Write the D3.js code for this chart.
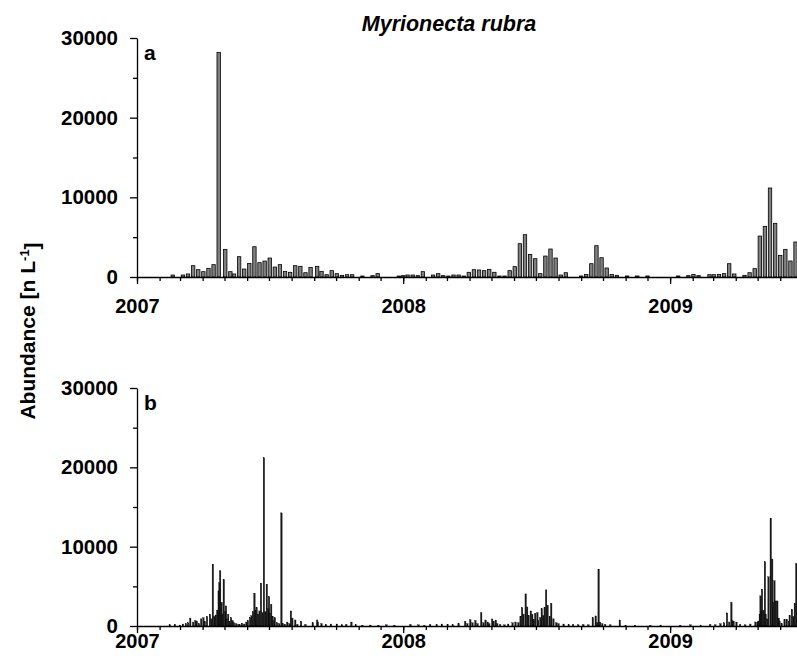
<!DOCTYPE html>
<html>
<head>
<meta charset="utf-8">
<script src="https://cdn.jsdelivr.net/npm/d3@7"></script>
<style>
  body { margin: 0; background: #fff; }
  text { font-family: "Liberation Sans", Arial, sans-serif; font-weight: bold; }
</style>
</head>
<body>
<svg id="chart"></svg>
<script>
const W = 797, H = 671;

// panel a: weekly samples
const datesA = [
  "2007-02-19","2007-03-05","2007-03-12","2007-03-19","2007-03-26","2007-04-02","2007-04-09","2007-04-16",
  "2007-04-23","2007-05-02","2007-05-09","2007-05-14","2007-05-21","2007-05-28","2007-06-04","2007-06-11",
  "2007-06-18","2007-06-25","2007-07-02","2007-07-09","2007-07-16","2007-07-23","2007-07-30","2007-08-06",
  "2007-08-13","2007-08-20","2007-08-27","2007-09-05","2007-09-11","2007-09-18","2007-09-25","2007-10-02",
  "2007-10-09","2007-10-16","2007-10-23","2007-11-06","2007-11-20","2007-11-27","2007-12-26","2008-01-01",
  "2008-01-07","2008-01-14","2008-01-21","2008-01-28","2008-02-11","2008-02-18","2008-02-25","2008-03-03",
  "2008-03-10","2008-03-17","2008-03-24","2008-03-31","2008-04-07","2008-04-14","2008-04-21","2008-04-28",
  "2008-05-05","2008-05-12","2008-05-19","2008-05-26","2008-06-02","2008-06-09","2008-06-16","2008-06-23",
  "2008-06-30","2008-07-07","2008-07-14","2008-07-21","2008-07-28","2008-08-04","2008-08-11","2008-09-01",
  "2008-09-08","2008-09-15","2008-09-22","2008-09-29","2008-10-06","2008-10-13","2008-10-20","2008-11-03",
  "2008-11-17","2008-12-01","2009-01-12","2009-01-26","2009-02-02","2009-02-09","2009-02-24","2009-03-02",
  "2009-03-09","2009-03-16","2009-03-23","2009-03-30","2009-04-13","2009-04-20","2009-04-27","2009-05-04",
  "2009-05-11","2009-05-18","2009-05-25","2009-06-01","2009-06-08","2009-06-15","2009-06-22"
];
const valuesA = [
  250,250,380,1420,920,670,1090,1550,
  28200,3470,670,380,2550,1000,1710,3800,
  1800,2000,2380,1250,1550,710,590,1420,
  1340,540,1210,1340,710,290,800,420,
  210,290,290,120,170,420,120,170,
  250,250,170,670,250,420,170,120,
  250,250,120,590,920,880,800,960,
  590,120,120,800,1300,4180,5310,2840,
  2300,420,2630,3510,2380,250,540,130,
  330,1670,3930,2420,1130,330,210,130,
  130,130,130,170,330,170,290,290,
  330,420,1670,380,210,540,1050,5140,
  6360,11170,6740,2720,3470,2010,4390
];

// panel b: near-daily samples, given as days after 1 Jan 2007
const daysB = [
  45,52,59,63,67,70,73,77,80,82,85,88,91,93,96,100,102,104,106,108,110,112,113,114,116,117,119,121,122,123,
  125,127,129,131,133,136,139,141,144,147,150,152,155,157,159,161,163,164,166,168,170,172,174,176,178,180,
  181,182,184,186,188,189,192,195,198,200,203,206,209,211,213,217,220,225,231,241,247,248,253,259,266,274,
  281,287,294,300,309,320,331,342,353,
  375,386,394,402,411,418,426,433,441,450,453,457,460,464,467,472,475,478,481,483,487,489,492,494,498,504,
  509,515,519,523,526,528,530,533,535,537,540,542,544,546,549,550,553,555,557,559,561,563,566,568,571,575,
  578,585,592,598,605,612,619,625,629,631,633,635,638,642,649,662,670,683,704,718,
  745,759,773,786,793,800,805,809,812,815,816,818,822,827,834,841,848,851,852,854,855,856,857,859,861,862,
  864,866,869,871,872,874,876,878,880,881,884,888,891,894,895,898,900,902,904
];
const valuesB = [
  150,200,120,250,300,400,1000,500,700,600,300,900,1050,600,1200,1480,900,7800,1200,1390,2000,4430,5450,6960,3000,1500,5860,1800,2530,900,
  1480,600,1050,700,400,300,200,150,350,250,500,700,1050,1300,1800,4140,2000,2320,1500,1900,5400,1700,21200,1800,5270,2200,
  3710,1600,2740,1200,700,1050,400,300,14260,300,200,500,300,1900,1000,760,200,600,200,400,760,500,300,200,250,250,
  150,200,500,150,100,120,100,150,100,
  200,150,100,200,150,250,200,150,300,590,300,800,400,700,300,1690,400,750,500,300,890,600,750,300,200,150,
  250,400,500,420,1220,2320,1500,4050,2400,1300,1900,1480,800,1600,1690,700,1050,2190,1300,2320,4550,2620,1200,2870,900,420,
  300,250,150,200,150,200,150,1050,1270,400,7170,500,300,200,150,760,100,100,100,120,
  100,150,120,200,150,300,400,1650,500,3000,700,630,500,200,150,250,510,400,630,1500,3800,1800,4640,2000,8100,1480,
  900,6200,13590,8440,3000,5700,3160,3160,1000,630,300,840,840,600,1350,2110,1200,2870,7890
];

const yTicks = [0, 10000, 20000, 30000];
const yMinorTicks = [5000, 15000, 25000];
const yearTicks = ["2007-01-01", "2008-01-01", "2009-01-01"];

const parse = d3.timeParse("%Y-%m-%d");
const start = parse("2007-01-01");
const end = parse("2009-06-24");

const svg = d3.select("#chart").attr("width", W).attr("height", H);

const x = d3.scaleTime().domain([start, end]).range([137, 797]);

const panelA = datesA.map((d, i) => ({ date: parse(d), value: valuesA[i] }));
const panelB = daysB.map((d, i) => ({ date: d3.timeDay.offset(start, d), value: valuesB[i] }));

function drawPanel(data, top, bottom, letter, labelPad, barW, fill, stroke, sw) {
  const y = d3.scaleLinear().domain([0, 30000]).range([bottom, top]);
  const g = svg.append("g");

  g.append("g").selectAll("rect")
    .data(data)
    .enter()
    .append("rect")
    .attr("x", d => x(d.date) - barW / 2)
    .attr("width", barW)
    .attr("y", d => y(d.value))
    .attr("height", d => bottom - y(d.value))
    .attr("fill", fill)
    .attr("stroke", stroke)
    .attr("stroke-width", sw);

  // y axis
  const ya = g.append("g").attr("transform", `translate(137,0)`)
    .call(d3.axisLeft(y).tickValues(yTicks).tickSize(7).tickSizeOuter(0).tickPadding(12).tickFormat(d3.format("d")));
  g.append("g").attr("transform", `translate(137,0)`)
    .call(d3.axisLeft(y).tickValues(yMinorTicks).tickSize(4).tickSizeOuter(0).tickFormat(""))
    .select(".domain").remove();
  ya.selectAll("text").style("font-size", "20.5px").attr("fill", "#000");

  // x axis: months minor, years major
  g.append("g").attr("transform", `translate(0,${bottom})`)
    .call(d3.axisBottom(x).ticks(d3.timeMonth.every(1)).tickSize(4).tickSizeOuter(0).tickFormat(""));
  g.append("g").attr("transform", `translate(0,${bottom})`)
    .call(d3.axisBottom(x).tickValues(yearTicks.map(parse)).tickSize(7).tickSizeOuter(0).tickPadding(labelPad).tickFormat(d3.timeFormat("%Y")))
    .call(s => s.select(".domain").remove())
    .selectAll("text").style("font-size", "20px").attr("fill", "#000");

  g.selectAll(".domain, .tick line").attr("stroke", "#000").attr("stroke-width", 1.3);

  g.append("text")
    .attr("x", 144)
    .attr("y", top + 22)
    .style("font-size", "21px")
    .text(letter);
}

drawPanel(panelA, 38, 277, "a", 15, 3.4, "#808080", "#000", 0.8);
drawPanel(panelB, 388, 626, "b", 1, 1.5, "#1a1a1a", "#000", 0.3);

svg.append("text")
  .attr("x", 449)
  .attr("y", 31)
  .attr("text-anchor", "middle")
  .style("font-size", "21.5px")
  .style("font-style", "italic")
  .text("Myrionecta rubra");

const yl = svg.append("text")
  .attr("transform", "translate(35,331) rotate(-90)")
  .attr("text-anchor", "middle")
  .style("font-size", "21px");
yl.append("tspan").text("Abundance [n L");
yl.append("tspan").attr("dy", "-0.45em").style("font-size", "13px").text("-1");
yl.append("tspan").attr("dy", "0.45em").text("]");
</script>
</body>
</html>
